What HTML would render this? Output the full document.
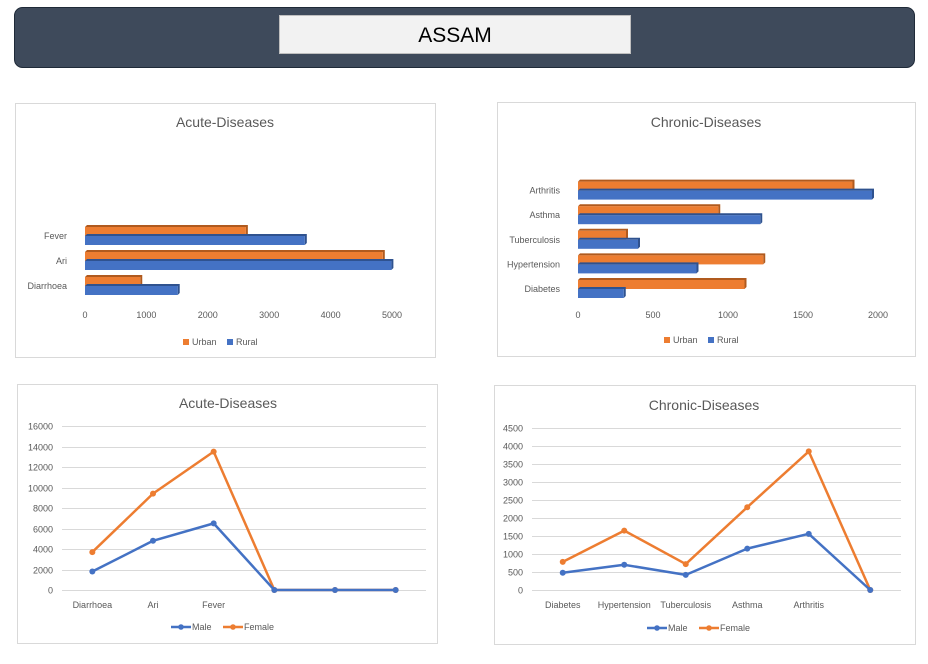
<!DOCTYPE html>
<html><head><meta charset="utf-8"><style>
body{margin:0;width:928px;height:659px;background:#fff;overflow:hidden;font-family:"Liberation Sans",sans-serif;}
svg text{font-family:"Liberation Sans",sans-serif;}
</style></head><body>
<svg id="s" width="928" height="659" xmlns="http://www.w3.org/2000/svg">
<rect x="14.5" y="7.5" width="900" height="60" rx="8" fill="#3e4a5b" stroke="#1f2a38"/>
<rect x="279.5" y="15.5" width="351" height="38" fill="#f2f2f2" stroke="#bfbfbf"/>
<text x="455" y="42" font-size="21" text-anchor="middle" fill="#000">ASSAM</text>
<rect x="15.5" y="103.5" width="420" height="254" fill="#fff" stroke="#d9d9d9"/>
<rect x="497.5" y="102.5" width="418" height="254" fill="#fff" stroke="#d9d9d9"/>
<rect x="17.5" y="384.5" width="420" height="259" fill="#fff" stroke="#d9d9d9"/>
<rect x="494.5" y="385.5" width="421" height="259" fill="#fff" stroke="#d9d9d9"/>
<g id="g"></g>
</svg>
<script>
const acuteBarCats=["Diarrhoea","Ari","Fever"];
const acuteUrban=[900,4850,2620];
const acuteRural=[1510,4990,3580];
const acuteBarTicks=[0,1000,2000,3000,4000,5000];
const chronicBarCats=["Diabetes","Hypertension","Tuberculosis","Asthma","Arthritis"];
const chronicUrban=[1110,1235,320,935,1830];
const chronicRural=[305,790,400,1215,1960];
const chronicBarTicks=[0,500,1000,1500,2000];
const acuteLineCats=["Diarrhoea","Ari","Fever","","",""];
const acuteMale=[1800,4800,6500,0,0,0];
const acuteFemale=[3700,9400,13500,0,0,0];
const acuteLineTicks=[0,2000,4000,6000,8000,10000,12000,14000,16000];
const chronicLineCats=["Diabetes","Hypertension","Tuberculosis","Asthma","Arthritis",""];
const chronicMale=[480,700,420,1150,1560,0];
const chronicFemale=[780,1650,720,2300,3850,0];
const chronicLineTicks=[0,500,1000,1500,2000,2500,3000,3500,4000,4500];

const NS="http://www.w3.org/2000/svg";
const G=document.getElementById('g');
function mk(t,a,txt){const e=document.createElementNS(NS,t);for(const k in a)e.setAttribute(k,a[k]);if(txt!==undefined)e.textContent=txt;G.appendChild(e);return e;}
const OR="#ed7d31",BL="#4472c4",ORD="#b05a1e",BLD="#2f528f",TX="#595959";

function barChart(o){
  const sx=v=>o.x0+(v-o.min)/(o.max-o.min)*(o.x1-o.x0);
  let e=mk('text',{x:o.cx,y:o.ty,'font-size':14,'text-anchor':'middle',fill:TX},o.title);
  
  
  o.ticks.forEach(t=>{const e=mk('text',{x:sx(t),y:o.tickY,'font-size':9,'text-anchor':'middle',fill:TX},t);
    
    });
  o.cats.forEach((c,i)=>{
    const yc=o.yBottom-i*o.pitch;
    const l=mk('text',{x:o.x0-18,y:yc+3,'font-size':9,'text-anchor':'end',fill:TX},c);
    
    
    [[o.u[i],yc-9,OR,ORD,'urban'],[o.r[i],yc,BL,BLD,'rural']].forEach(([v,y,f,d,n])=>{
      const w=sx(v)-o.x0;
      const sh=mk('polygon',{points:`${o.x0},${y} ${o.x0+2},${y-2} ${o.x0+w+2},${y-2} ${o.x0+w+2},${y+7} ${o.x0+w},${y+9} ${o.x0+w},${y}`,fill:d});
      
      
      const r=mk('rect',{x:o.x0,y:y,width:w,height:9,fill:f});
      
      
    });
  });
  legend(o.key,o.cx,o.legY,false,["Urban","Rural"]);
}
function legend(key,cx,y,line,names){
  const cols=[OR,BL];
  if(line){names=["Male","Female"];}
  const ws=line?[52,62]:[44,40];
  let x=cx-(ws[0]+ws[1])/2;
  names.forEach((n,i)=>{
    const c=line?[BL,OR][i]:cols[i];
    if(line){const l=mk('line',{x1:x,y1:y-3,x2:x+20,y2:y-3,stroke:c,'stroke-width':2.5});
      
      
      const d=mk('circle',{cx:x+10,cy:y-3,r:2.8,fill:c});
      
      
      const t=mk('text',{x:x+21,y:y,'font-size':9,fill:TX},n);
      
      }
    else{const r=mk('rect',{x:x,y:y-6,width:6,height:6,fill:c});
      
      
      const t=mk('text',{x:x+9,y:y,'font-size':9,fill:TX},n);
      
      }
    x+=ws[i];
  });
}
function lineChart(o){
  const n=o.cats.length,cw=(o.x1-o.x0)/n;
  const sx=i=>o.x0+cw*(i+0.5);
  const sy=v=>o.y0-(v/o.max)*(o.y0-o.y1);
  let e=mk('text',{x:o.cx,y:o.ty,'font-size':14,'text-anchor':'middle',fill:TX},o.title);
  
  
  o.ticks.forEach(t=>{const y=Math.round(sy(t))+0.5;
    const g=mk('line',{x1:o.x0,y1:y,x2:o.x1,y2:y,stroke:'#d9d9d9','stroke-width':1});
    
    
    const l=mk('text',{x:o.x0-9,y:y+3,'font-size':9,'text-anchor':'end',fill:TX},t);
    
    });
  o.cats.forEach((c,i)=>{if(!c)return;const l=mk('text',{x:sx(i),y:o.y0+18,'font-size':9,'text-anchor':'middle',fill:TX},c);
    
    });
  [[o.f,OR,'female'],[o.m,BL,'male']].forEach(([d,c,nm])=>{
    const p=mk('polyline',{points:d.map((v,i)=>sx(i)+','+sy(v)).join(' '),fill:'none',stroke:c,'stroke-width':2.5,'stroke-linejoin':'round'});
    
    
    d.forEach((v,i)=>{const m=mk('circle',{cx:sx(i),cy:sy(v),r:3,fill:c});
      
      });
  });
  legend(o.key,o.cx,o.legY,true);
}
barChart({key:'acute-bar',title:'Acute-Diseases',cx:225,ty:127,x0:85,x1:392,min:0,max:5000,ticks:acuteBarTicks,tickY:318,cats:acuteBarCats,u:acuteUrban,r:acuteRural,yBottom:286,pitch:25,legY:345});
barChart({key:'chronic-bar',title:'Chronic-Diseases',cx:706,ty:127,x0:578,x1:878,min:0,max:2000,ticks:chronicBarCats?chronicBarTicks:[],tickY:318,cats:chronicBarCats,u:chronicUrban,r:chronicRural,yBottom:289,pitch:24.6,legY:343});
lineChart({key:'acute-line',title:'Acute-Diseases',cx:228,ty:408,x0:62,x1:426,y0:590,y1:426,max:16000,ticks:acuteLineTicks,cats:acuteLineCats,m:acuteMale,f:acuteFemale,legY:630});
lineChart({key:'chronic-line',title:'Chronic-Diseases',cx:704,ty:410,x0:532,x1:901,y0:590,y1:428,max:4500,ticks:chronicLineTicks,cats:chronicLineCats,m:chronicMale,f:chronicFemale,legY:631});
</script>
</body></html>
